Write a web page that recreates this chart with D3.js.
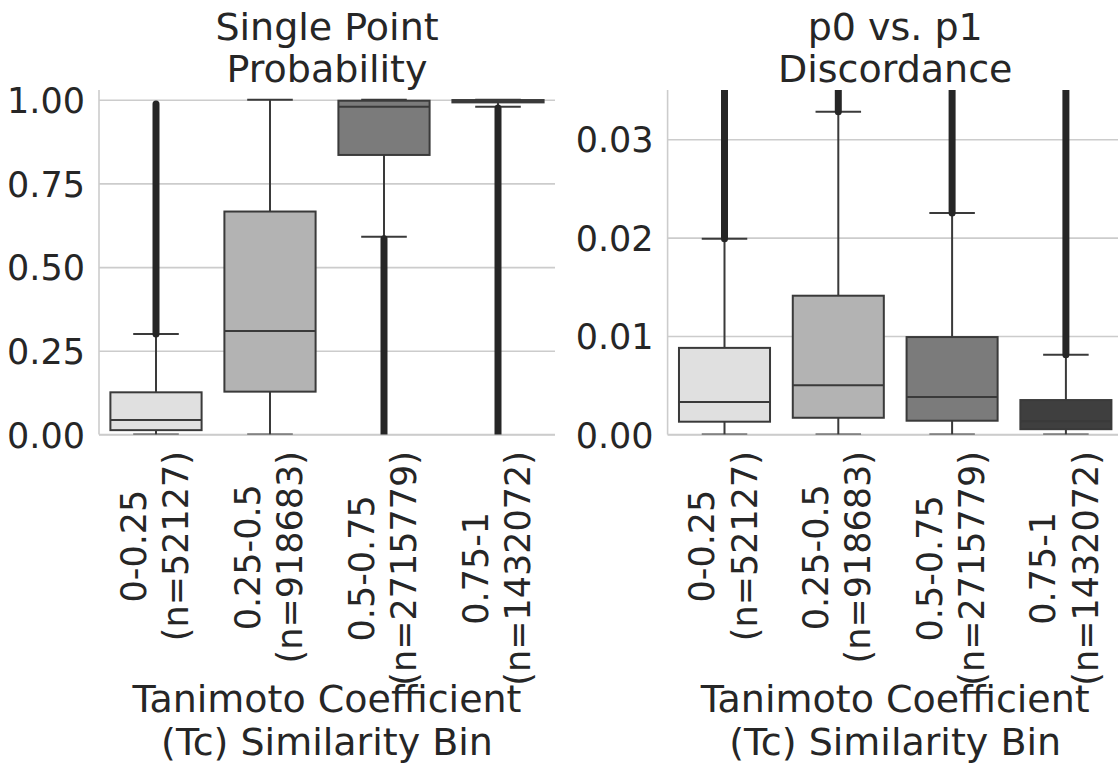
<!DOCTYPE html>
<html>
<head>
<meta charset="utf-8">
<script src="https://cdn.jsdelivr.net/npm/d3@7"></script>
<style>
  body { margin: 0; background: #ffffff; }
  svg { display: block; font-family: "DejaVu Sans", sans-serif; }
</style>
</head>
<body>
<svg id="chart" width="1118" height="764"></svg>
<script>
// Similarity bins and their sizes
const categories = ['0-0.25', '0.25-0.5', '0.5-0.75', '0.75-1'];
const counts = [52127, 918683, 2715779, 1432072];

// Single point probability box stats
const probLow = [0, 0, 0.591, 0.979];
const probQ1 = [0.013, 0.128, 0.835, 0.992];
const probMedian = [0.043, 0.309, 0.979, 0.996];
const probQ3 = [0.126, 0.666, 0.997, 0.999];
const probHigh = [0.300, 1.0, 1.0, 1.0];
const probOutliers = [[0.300, 0.987], null, [0, 0.585], [0, 0.975]];
const probTicks = [0, 0.25, 0.5, 0.75, 1.0];

// p0 vs. p1 discordance box stats
const discLow = [0, 0, 0, 0];
const discQ1 = [0.0013, 0.0017, 0.0014, 0.00054];
const discMedian = [0.0033, 0.0050, 0.0038, 0.00135];
const discQ3 = [0.0088, 0.0141, 0.0099, 0.0035];
const discHigh = [0.0199, 0.0328, 0.0225, 0.0081];
const discOutliers = [[0.0199, 0.05], [0.0328, 0.05], [0.0225, 0.05], [0.0081, 0.05]];
const discTicks = [0, 0.01, 0.02, 0.03];

const boxColors = ['#e0e0e0', '#b3b3b3', '#7b7b7b', '#3f3f3f'];
const textColor = '#262626';
const lineColor = '#3a3a3a';

const plotTop = 90;
const plotBottom = 434.5;

const panels = [
    { id: 'prob', title: ['Single Point', 'Probability'], x0: 99, x1: 555, yMax: 1.029,
      low: probLow, q1: probQ1, med: probMedian, q3: probQ3, high: probHigh, out: probOutliers, ticks: probTicks },
    { id: 'disc', title: ['p0 vs. p1', 'Discordance'], x0: 667.6, x1: 1122.8, yMax: 0.035,
      low: discLow, q1: discQ1, med: discMedian, q3: discQ3, high: discHigh, out: discOutliers, ticks: discTicks }
];

const svg = d3.select('#chart');
const defs = svg.append('defs');

panels.forEach(p => {
    const g = svg.append('g');
    const x = d3.scaleBand().domain(categories).range([p.x0, p.x1]).padding(0);
    const y = d3.scaleLinear().domain([0, p.yMax]).range([plotBottom, plotTop]);
    const boxW = x.bandwidth() * 0.8;
    const capW = boxW / 2;

    // Horizontal grid lines
    g.append('g')
        .attr('transform', `translate(${p.x0},0)`)
        .call(d3.axisLeft(y).tickValues(p.ticks).tickSize(-(p.x1 - p.x0)).tickFormat(''))
        .call(a => a.select('.domain').remove())
        .selectAll('line')
        .attr('stroke', '#cccccc')
        .attr('stroke-width', 1.6);

    // Left and bottom spines
    g.append('line')
        .attr('x1', p.x0).attr('x2', p.x0)
        .attr('y1', plotTop).attr('y2', plotBottom)
        .attr('stroke', '#cccccc').attr('stroke-width', 1.6);
    g.append('line')
        .attr('x1', p.x0).attr('x2', p.x1)
        .attr('y1', plotBottom).attr('y2', plotBottom)
        .attr('stroke', '#cccccc').attr('stroke-width', 1.6);

    // Y tick labels
    g.append('g')
        .attr('transform', `translate(${p.x0},0)`)
        .call(d3.axisLeft(y).tickValues(p.ticks).tickSize(0).tickPadding(14).tickFormat(d3.format('.2f')))
        .call(a => a.select('.domain').remove())
        .selectAll('text')
        .attr('dy', '0.36em')
        .style('font-size', '35px')
        .style('font-family', '"DejaVu Sans", sans-serif')
        .attr('fill', textColor);

    // Clip region for the plot area
    defs.append('clipPath').attr('id', 'clip-' + p.id)
        .append('rect')
        .attr('x', p.x0).attr('y', plotTop)
        .attr('width', p.x1 - p.x0).attr('height', plotBottom - plotTop);

    const plot = g.append('g').attr('clip-path', `url(#clip-${p.id})`);

    categories.forEach((c, i) => {
        const cx = x(c) + x.bandwidth() / 2;

        // Whiskers
        plot.append('line')
            .attr('x1', cx).attr('x2', cx)
            .attr('y1', y(p.q3[i])).attr('y2', y(p.high[i]))
            .attr('stroke', lineColor).attr('stroke-width', 2);
        plot.append('line')
            .attr('x1', cx).attr('x2', cx)
            .attr('y1', y(p.q1[i])).attr('y2', y(p.low[i]))
            .attr('stroke', lineColor).attr('stroke-width', 2);

        // Caps
        [p.high[i], p.low[i]].forEach(v => {
            plot.append('line')
                .attr('x1', cx - capW / 2).attr('x2', cx + capW / 2)
                .attr('y1', y(v)).attr('y2', y(v))
                .attr('stroke', lineColor).attr('stroke-width', 2);
        });

        // Box
        plot.append('rect')
            .attr('x', cx - boxW / 2)
            .attr('y', y(p.q3[i]))
            .attr('width', boxW)
            .attr('height', Math.max(0, y(p.q1[i]) - y(p.q3[i])))
            .attr('fill', boxColors[i])
            .attr('stroke', lineColor)
            .attr('stroke-width', 2);

        // Median
        plot.append('line')
            .attr('x1', cx - boxW / 2).attr('x2', cx + boxW / 2)
            .attr('y1', y(p.med[i])).attr('y2', y(p.med[i]))
            .attr('stroke', lineColor).attr('stroke-width', 2);

        // Outliers (dense enough to merge into a thick bar)
        if (p.out[i]) {
            plot.append('line')
                .attr('x1', cx).attr('x2', cx)
                .attr('y1', y(p.out[i][0])).attr('y2', y(p.out[i][1]))
                .attr('stroke', textColor)
                .attr('stroke-width', 7)
                .attr('stroke-linecap', 'round');
        }
    });

    // X tick labels (two lines, rotated)
    const xAxis = g.append('g')
        .attr('transform', `translate(0,${plotBottom})`)
        .call(d3.axisBottom(x).tickSize(0).tickFormat(''))
        .call(a => a.select('.domain').remove());

    xAxis.selectAll('.tick').each(function(d, i) {
        const tick = d3.select(this);
        const lines = [d, `(n=${counts[i]})`];
        const offsets = [-10.5, 32];
        const texts = lines.map((t, k) => tick.append('text')
            .attr('text-anchor', 'middle')
            .attr('fill', textColor)
            .style('font-size', '35px')
            .style('font-family', '"DejaVu Sans", sans-serif')
            .text(t));
        const maxLen = d3.max(texts, t => t.node().getComputedTextLength());
        const top = 451 - plotBottom;
        texts.forEach((t, k) => {
            t.attr('transform', `translate(${offsets[k]},${top + maxLen / 2}) rotate(-90)`);
        });
    });

    const cxAxis = (p.x0 + p.x1) / 2;

    // Title
    p.title.forEach((t, k) => {
        g.append('text')
            .attr('x', cxAxis)
            .attr('y', 39.5 + k * 42.5)
            .attr('text-anchor', 'middle')
            .attr('fill', textColor)
            .style('font-size', '38px')
            .text(t);
    });

    // X axis label
    ['Tanimoto Coefficient', '(Tc) Similarity Bin'].forEach((t, k) => {
        g.append('text')
            .attr('x', cxAxis)
            .attr('y', 712 + k * 43)
            .attr('text-anchor', 'middle')
            .attr('fill', textColor)
            .style('font-size', '38px')
            .text(t);
    });
});
</script>
</body>
</html>
